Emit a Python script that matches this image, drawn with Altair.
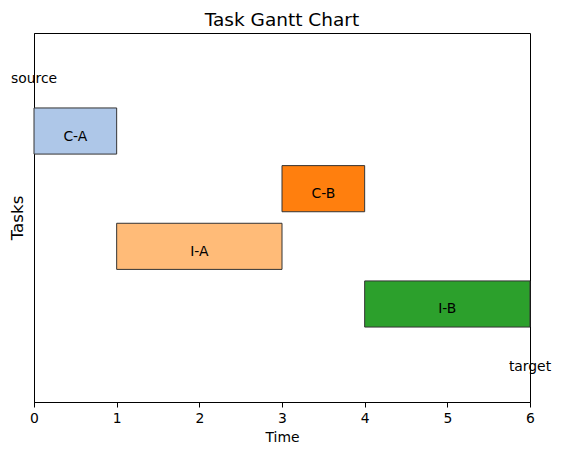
import altair as alt
import pandas as pd

tasks = ["C-A", "C-B", "I-A", "I-B"]
starts = [0, 3, 1, 4]
ends = [1, 4, 3, 6]
rows = [1, 2, 3, 4]
colors = ["#aec7e8", "#ff7f0e", "#ffbb78", "#2ca02c"]

end_labels = ["source", "target"]
end_times = [0, 6]
end_rows = [0, 5]

bar_half = 0.4

df = pd.DataFrame({
    "task": tasks,
    "start": starts,
    "end": ends,
    "row": rows,
})
df["mid"] = (df["start"] + df["end"]) / 2
df["top"] = df["row"] - bar_half
df["bottom"] = df["row"] + bar_half

ends_df = pd.DataFrame({"label": end_labels, "time": end_times, "row": end_rows})

FONT = "DejaVu Sans"

x_scale = alt.Scale(domain=[0, 6], nice=False, zero=False)
y_scale = alt.Scale(domain=[-0.7, 5.7], reverse=True, nice=False, zero=False)

bars = alt.Chart(df).mark_rect(stroke="#333333", strokeWidth=1).encode(
    x=alt.X("start:Q", scale=x_scale,
            axis=alt.Axis(title="Time", values=[0, 1, 2, 3, 4, 5, 6], format="d",
                          grid=False, tickSize=5, labelPadding=4, titlePadding=6,
                          labelFontSize=13.9, titleFontSize=13.9,
                          titleFontWeight="normal", labelColor="black",
                          titleColor="black", domainColor="black", tickColor="black",
                          labelFont=FONT, titleFont=FONT, labelFlush=False)),
    x2="end:Q",
    y=alt.Y("top:Q", scale=y_scale,
            axis=alt.Axis(title="Tasks", labels=False, ticks=False, grid=False,
                          domainColor="black", titleFontSize=16.7,
                          titleFontWeight="normal", titleColor="black",
                          titleFont=FONT, titlePadding=8)),
    y2="bottom:Q",
    color=alt.Color("task:N", scale=alt.Scale(domain=tasks, range=colors), legend=None),
)

bar_text = alt.Chart(df).mark_text(
    baseline="alphabetic", align="center", dy=9.5, fontSize=13.9, font=FONT, color="black"
).encode(
    x=alt.X("mid:Q", scale=x_scale),
    y=alt.Y("row:Q", scale=y_scale),
    text="task:N",
)

end_text = alt.Chart(ends_df).mark_text(
    baseline="alphabetic", align="center", dy=9.5, fontSize=13.9, font=FONT, color="black"
).encode(
    x=alt.X("time:Q", scale=x_scale),
    y=alt.Y("row:Q", scale=y_scale),
    text="label:N",
)

chart = alt.layer(bars, bar_text, end_text).properties(
    width=496,
    height=369,
    title=alt.TitleParams("Task Gantt Chart", fontSize=18.5, font=FONT,
                          fontWeight="normal", color="black", offset=4),
    autosize=alt.AutoSizeParams(type="none"),
    padding={"left": 34, "top": 33, "right": 31, "bottom": 54},
).configure(background="white").configure_view(stroke="black", strokeWidth=1)

chart.save("out.html", embed_options={"renderer": "svg", "actions": False})
